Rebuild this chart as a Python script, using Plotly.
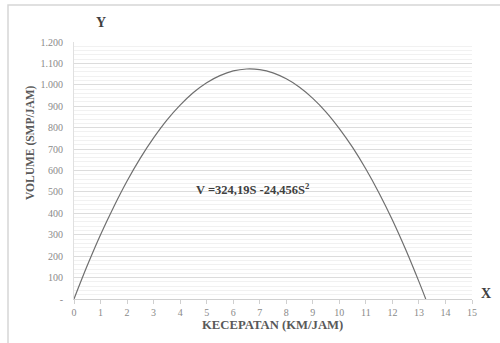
import plotly.graph_objects as go

# Speed S (km/jam) and volume V (smp/jam)
speed = [0, 0.5, 1, 1.5, 2, 2.5, 3, 3.5, 4, 4.5, 5, 5.5, 6, 6.5, 7, 7.5, 8,
         8.5, 9, 9.5, 10, 10.5, 11, 11.5, 12, 12.5, 13, 13.256]
volume = [0, 156, 300, 431, 551, 658, 752, 835, 905, 964, 1010, 1043, 1065,
          1074, 1071, 1056, 1028, 989, 937, 873, 796, 708, 607, 494, 369,
          231, 81, 0]

y_ticks = [0, 100, 200, 300, 400, 500, 600, 700, 800, 900, 1000, 1100, 1200]
y_labels = ["-", "100", "200", "300", "400", "500", "600", "700", "800",
            "900", "1.000", "1.100", "1.200"]
x_ticks = list(range(0, 16))

FONT = "Liberation Serif"
fig = go.Figure()
fig.add_trace(go.Scatter(x=speed, y=volume, mode="lines",
                         line=dict(color="#6f6f6f", width=1.2, shape="spline"),
                         showlegend=False, hoverinfo="skip"))


def px(xp):
    return (xp - 74) / 398


def py(yp):
    return (299 - yp) / 257


fig.update_layout(
    width=500, height=343,
    margin=dict(l=74, r=28, t=42, b=44),
    paper_bgcolor="white", plot_bgcolor="white",
    font=dict(family=FONT, color="#7f7f7f", size=10),
    xaxis=dict(range=[0, 15], tickvals=x_ticks, showgrid=False,
               showline=True, linecolor="#d0d0d0", linewidth=1,
               ticks="outside", ticklen=4, tickcolor="#d0d0d0",
               tickfont=dict(family=FONT, size=10, color="#8a8a8a"),
               zeroline=False, fixedrange=True),
    yaxis=dict(range=[0, 1200], tickvals=y_ticks, ticktext=y_labels,
               showgrid=True, gridcolor="#dcdcdc", gridwidth=1,
               minor=dict(dtick=20, showgrid=True, gridcolor="#f1f1f1"),
               showline=True, linecolor="#e0e0e0",
               ticklabelstandoff=8,
               tickfont=dict(family=FONT, size=10, color="#8a8a8a"),
               zeroline=False, fixedrange=True),
    shapes=[dict(type="rect", xref="paper", yref="paper",
                 x0=px(8), x1=1.3, y0=-0.6, y1=py(5),
                 line=dict(color="#d6d6d6", width=1.5), layer="below")],
    annotations=[
        dict(text="<b>Y</b>", xref="paper", yref="paper",
             x=px(101), y=py(22), xanchor="center", yanchor="middle",
             showarrow=False,
             font=dict(family=FONT, size=14, color="#404040")),
        dict(text="<b>X</b>", xref="paper", yref="paper",
             x=px(486), y=py(293), xanchor="center", yanchor="middle",
             showarrow=False,
             font=dict(family=FONT, size=14, color="#404040")),
        dict(text="<b>VOLUME (SMP/JAM)</b>", xref="paper", yref="paper",
             x=px(30), y=py(143), xanchor="center", yanchor="middle",
             textangle=-90, showarrow=False,
             font=dict(family=FONT, size=11.5, color="#595959")),
        dict(text="<b>KECEPATAN (KM/JAM)</b>", xref="paper", yref="paper",
             x=px(272), y=py(325), xanchor="center", yanchor="middle",
             showarrow=False,
             font=dict(family=FONT, size=12.7, color="#595959")),
        dict(text="<b>V =324,19S -24,456S<sup>2</sup></b>", xref="paper",
             yref="paper", x=px(252), y=py(189), xanchor="center",
             yanchor="middle", showarrow=False,
             font=dict(family=FONT, size=12.5, color="#404040")),
    ],
)

fig.write_html("out.html")
